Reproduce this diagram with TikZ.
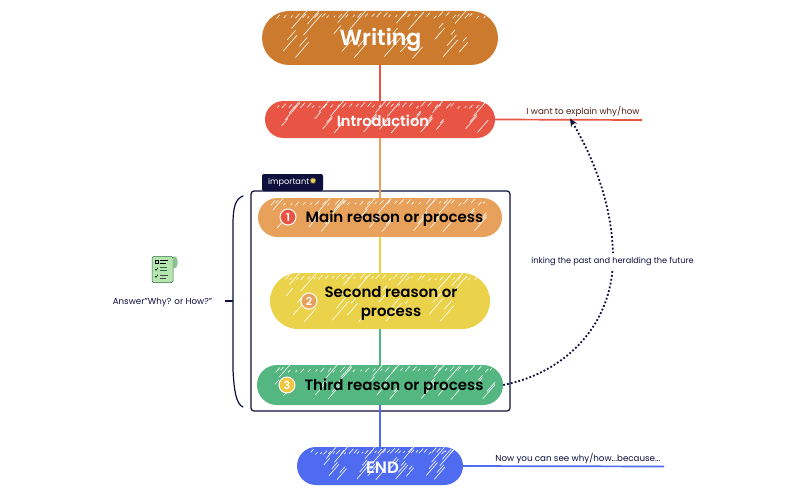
\documentclass[tikz,border=0pt]{standalone}
\usepackage{fontspec}
\setmainfont[BoldFont={Poppins SemiBold}]{Poppins}
\newfontfamily\symfont{DejaVu Sans}
\usetikzlibrary{shapes.misc,arrows.meta,calc}
\definecolor{cWriting}{HTML}{CC7B2E}
\definecolor{cIntro}{HTML}{E85545}
\definecolor{cMain}{HTML}{E8A15A}
\definecolor{cSecond}{HTML}{EBD24B}
\definecolor{cThird}{HTML}{54B680}
\definecolor{cEnd}{HTML}{4F6CF0}
\definecolor{cNavy}{HTML}{0D0F3C}
\definecolor{cDocFill}{HTML}{B5E6B0}
\definecolor{cDocEdge}{HTML}{2F6B45}
\tikzset{
  pill/.style n args={3}{rounded rectangle, fill=#3, inner sep=0pt,
    minimum width=#1pt, minimum height=#2pt,
    path picture={
      \foreach \i in {1,...,34}{
        \pgfmathsetmacro\hx{(mod(\i*0.6180+#1*0.013,1)-0.5)*(#1-24)}
        \pgfmathsetmacro\hy{-#2/2+5+mod(\i*0.37,1)*2.5}
        \pgfmathsetmacro\hl{1+mod(\i*0.83,1)*3.5}
        \draw[white,line width=.6pt,line cap=round]
          ($(path picture bounding box.center)+(\hx,\hy)$) -- ++(\hl,-1.1*\hl);
      }
      \foreach \i in {1,...,30}{
        \pgfmathsetmacro\hx{(mod(\i*0.7549+#1*0.017,1)-0.5)*(#1-30)}
        \pgfmathsetmacro\hy{#2/2-3-mod(\i*0.5698,1)*(#2-14)}
        \pgfmathsetmacro\hl{3+mod(\i*0.4142,1)*(#2*0.24+3)}
        \draw[white,line width=.6pt,line cap=round]
          ($(path picture bounding box.center)+(\hx,\hy)$) -- ++(\hl,-1.15*\hl);
      }
    }},
  linkline/.style={line width=1.4pt},
  sideline/.style={line width=1.7pt},
  darktext/.style={font=\bfseries\fontsize{15}{19}\selectfont, text=black, align=center},
  whitetext/.style={font=\bfseries, text=white},
  smalltext/.style={font=\fontsize{8.7}{10}\selectfont, text=cNavy, inner sep=0pt},
  badge/.style={circle, draw=white, line width=1pt, fill=#1, text=white, inner sep=0pt,
    minimum size=16pt, font=\bfseries\fontsize{11}{11}\selectfont},
  dotlink/.style={cNavy, line width=1.8pt, dash pattern=on 1.8pt off 2.1pt, line cap=butt,
    -{Stealth[length=8pt,width=7pt]}},
}
\begin{document}
\begin{tikzpicture}[x=1pt,y=-1pt]
\useasboundingbox (0,0) rectangle (800,495);
\fill[white] (0,0) rectangle (800,495);

% frame
\node[draw=cNavy, line width=1.2pt, rounded corners=3pt, minimum width=259pt, minimum height=220pt, inner sep=0pt] (frame) at (380.5,301) {};
\node[fill=cNavy, rounded corners=2pt, minimum width=61pt, minimum height=17pt, inner sep=0pt,
      text=white, font=\fontsize{8.2}{9}\selectfont] (tag) at (292.5,182.5) {\raisebox{-1.5pt}{important{\symfont\fontsize{9}{9}\selectfont\textcolor{cSecond}{✹}}}};

\coordinate (cw) at (380,38);
\coordinate (ci) at (380,119.5);
\coordinate (cm) at (380,217.5);
\coordinate (cs) at (380,301);
\coordinate (ct) at (380,385);
\coordinate (ce) at (380,466);

% pills
\node[pill={236}{54}{cWriting}] (writing) at (cw) {};
\node[pill={230}{37}{cIntro}] (intro) at (ci) {};
\node[pill={244}{39}{cMain}] (main) at (cm) {};
\node[pill={220}{56}{cSecond}] (second) at (cs) {};
\node[pill={246}{40}{cThird}] (third) at (ct) {};
\node[pill={166}{38}{cEnd}] (end) at (ce) {};

% texts
\node[whitetext, font=\bfseries\fontsize{22}{26}\selectfont] (writingT) at (380.5,40) {Writing};
\node[whitetext, font=\bfseries\fontsize{14.7}{18}\selectfont] (introT) at (383,121) {Introduction};
\node[whitetext, font=\bfseries\fontsize{16.5}{18}\selectfont] (endT) at (382.5,468) {END};
\node[darktext] (mainT) at (394.5,219) {Main reason or process};
\node[darktext] (secondT) at (391,303) {Second reason or\\process};
\node[darktext] (thirdT) at (394,387) {Third reason or process};
\node[badge=cIntro] (b1) at (288,217) {\raisebox{-1pt}{1}};
\node[badge=cMain] (b2) at (309,301) {\raisebox{-1pt}{2}};
\node[badge=cSecond!85!orange] (b3) at (287,385) {\raisebox{-1pt}{3}};

\draw[linkline, cIntro] (writing.south) -- (intro.north);
\draw[linkline, cMain] (intro.south) -- (main.north);
\draw[linkline, cSecond] (main.south) -- (second.north);
\draw[linkline, cThird] (second.south) -- (third.north);
\draw[linkline, cEnd] (third.south) -- (end.north);

% side lines
\coordinate (introEnd) at (642,120);
\coordinate (endEnd) at (664,466.5);
\coordinate (arrowTip) at (570,118.5);
\draw[sideline, cIntro] (intro.east) -- (introEnd);
\draw[sideline, cEnd] (end.east) -- (endEnd);
\node[smalltext, text=cIntro!35!black] (introNote) at (583,112) {I want to explain why/how};
\node[smalltext] (endNote) at (578,459) {Now you can see why/how...because...};

% dotted link
\draw[dotlink] (third.east) .. controls (565,373) and (613,325) .. (613,258)
  .. controls (613,205) and (592,155) .. (arrowTip);
\node[smalltext, fill=white, inner xsep=2pt, inner ysep=4pt, font=\fontsize{8.2}{10}\selectfont] (loopNote) at (612.5,261) {inking the past and heralding the future};

% left bracket
\coordinate (brTop) at (243,196);
\coordinate (brBot) at (243,407);
\coordinate (brTick) at (225,301);
\draw[cNavy, line width=1.2pt, line cap=round] (brTop) .. controls (235,199) and (233,208) .. (233,225)
  -- (233,370) .. controls (234,390) and (236,404) .. (brBot);
\draw[cNavy, line width=1.2pt] (brTick) -- (233,301);

% icon
\node[fill=cDocFill, draw=cDocEdge, line width=.5pt, rounded corners=1.5pt, minimum width=21pt, minimum height=26pt, inner sep=0pt] (doc) at (162.5,269.5) {};
\fill[cDocFill!70!cDocEdge] (173,256.5) -- (176,256.5) to[out=-60,in=60] (176,268) -- (173,268) -- cycle;
\draw[black, line width=.5pt] (155,260) rectangle (158.5,263.5);
\draw[black, line width=.7pt] (160,260.5) -- (168,260.5) (160,263) -- (166,263);
\draw[black, line width=.5pt] (155,269) -- (156,270.5) -- (158,267.5);
\draw[cDocEdge, line width=.7pt] (160,267) -- (167,267) (160,270) -- (167,270);
\draw[black, line width=.5pt] (155,276) -- (156,277.5) -- (158,274.5);
\draw[black!70, line width=.7pt] (160,275) -- (168,275) (160,278) -- (166,278);
\node[smalltext] (answer) at (162.5,302) {Answer"Why? or How?"};
\end{tikzpicture}
\end{document}
